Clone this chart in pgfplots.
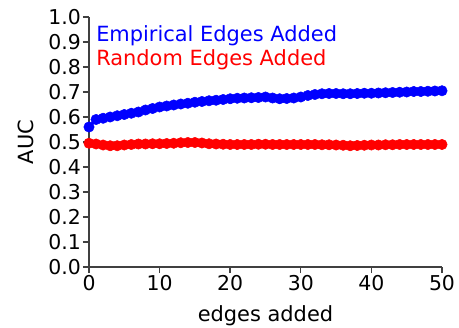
\documentclass[border=0pt]{standalone}
\usepackage{pgfplots}
\pgfplotsset{compat=1.18}
\usepackage{fontspec}
\setmainfont{DejaVu Sans}
\begin{document}
\begin{tikzpicture}
\begin{axis}[
  scale only axis, width=353bp, height=250bp,
  xmin=0, xmax=50, ymin=0, ymax=1.0,
  axis x line*=bottom, axis y line*=left,
  axis line style={line width=1.6bp, black!75},
  tick align=outside, tick style={line width=1.4bp, black!75},
  major tick length=6bp,
  xtick={0,10,20,30,40,50},
  ytick={0,0.1,...,1.0},
  /pgf/number format/assume math mode=true,
  yticklabel style={/pgf/number format/fixed,/pgf/number format/precision=1,/pgf/number format/fixed zerofill, inner xsep=2bp},
  xticklabel style={inner ysep=2bp},
  tick label style={font=\fontsize{20.5}{23}\selectfont},
  label style={font=\fontsize{21}{24}\selectfont},
  xlabel={edges added}, ylabel={AUC},
  xlabel shift=9bp, ylabel shift=9bp,
  clip=false,
  legend style={draw=none, fill=none, at={(0.02,0.968)}, anchor=north west, font=\fontsize{21}{24}\selectfont, row sep=3bp, inner sep=0pt, nodes={inner sep=0pt, text height=16bp, text depth=5bp}},
  legend cell align=left,
  legend image code/.code={},
]
\addplot[blue, line width=3bp, mark=*, mark size=5.2bp, mark options={solid, fill=blue, draw=blue, line width=0.5bp}] coordinates {
(0,0.560)(1,0.590)(2,0.595)(3,0.600)(4,0.605)(5,0.610)(6,0.615)(7,0.620)(8,0.628)(9,0.634)
(10,0.640)(11,0.644)(12,0.648)(13,0.652)(14,0.655)(15,0.659)(16,0.662)(17,0.665)(18,0.667)(19,0.670)
(20,0.673)(21,0.675)(22,0.676)(23,0.677)(24,0.678)(25,0.680)(26,0.676)(27,0.673)(28,0.674)(29,0.676)
(30,0.680)(31,0.686)(32,0.690)(33,0.693)(34,0.694)(35,0.694)(36,0.693)(37,0.693)(38,0.694)(39,0.695)
(40,0.695)(41,0.696)(42,0.697)(43,0.698)(44,0.699)(45,0.700)(46,0.702)(47,0.702)(48,0.703)(49,0.704)(50,0.705)
};
\addlegendentry{\textcolor{blue}{Empirical Edges Added}}
\addplot[red, line width=3bp, mark=*, mark size=5.2bp, mark options={solid, fill=red, draw=red, line width=0.5bp}] coordinates {
(0,0.495)(1,0.492)(2,0.488)(3,0.485)(4,0.485)(5,0.488)(6,0.490)(7,0.492)(8,0.492)(9,0.493)
(10,0.493)(11,0.494)(12,0.495)(13,0.497)(14,0.498)(15,0.498)(16,0.496)(17,0.493)(18,0.492)(19,0.491)
(20,0.490)(21,0.490)(22,0.490)(23,0.490)(24,0.491)(25,0.491)(26,0.490)(27,0.490)(28,0.490)(29,0.490)
(30,0.490)(31,0.490)(32,0.490)(33,0.489)(34,0.489)(35,0.488)(36,0.487)(37,0.485)(38,0.486)(39,0.487)
(40,0.488)(41,0.488)(42,0.489)(43,0.489)(44,0.490)(45,0.490)(46,0.490)(47,0.490)(48,0.490)(49,0.490)(50,0.490)
};
\addlegendentry{\textcolor{red}{Random Edges Added}}
\addplot[gray, opacity=0.6, dashed, line width=1.2bp, forget plot] coordinates {(0,0.5)(50,0.5)};
\end{axis}
\pgfresetboundingbox
\path (current axis.south west) ++(-89bp,-61bp) rectangle ++(459bp,328bp);
\end{tikzpicture}
\end{document}
